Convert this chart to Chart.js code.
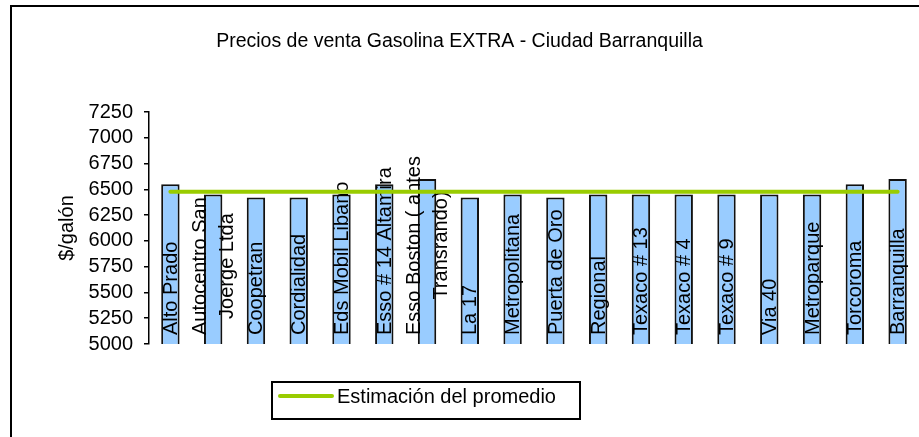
<!DOCTYPE html>
<html>
<head>
<meta charset="UTF-8">
<title>Precios de venta Gasolina EXTRA</title>
<script src="https://cdn.jsdelivr.net/npm/chart.js@4.4.1/dist/chart.umd.min.js"></script>
<style>
  html, body { margin: 0; padding: 0; background: #fff; }
  #wrap { width: 919px; height: 437px; position: relative; }
</style>
</head>
<body>
<div id="wrap"><canvas id="chart"></canvas></div>
<script>
// estaciones (etiquetas con salto de linea donde el original las parte)
var estaciones = [
  "Alto Prado", ["Autocentro San", "Joerge Ltda"], "Coopetran", "Cordialidad",
  "Eds Mobil Libano", "Esso # 14 Altamira", ["Esso Boston ( antes", "Transrando)"],
  "La 17", "Metropolitana", "Puerta de Oro", "Regional", "Texaco # 13",
  "Texaco # 4", "Texaco # 9", "Via 40", "Metroparque", "Torcoroma", "Barranquilla"
];
var precios = [6550, 6450, 6420, 6420, 6450, 6550, 6600, 6420, 6450, 6420,
               6450, 6450, 6450, 6450, 6450, 6450, 6550, 6600];
var promedio = [6477, 6477, 6477, 6477, 6477, 6477, 6477, 6477, 6477, 6477,
                6477, 6477, 6477, 6477, 6477, 6477, 6477, 6477];
var yMin = 5000, yMax = 7250, yPaso = 250;

var fuente = "'Liberation Sans', Arial, sans-serif";
Chart.defaults.font.family = fuente;
Chart.defaults.color = "#000";

// marco y fondo
var marco = {
  id: "marco",
  beforeDraw: function(chart) {
    var c = chart.ctx;
    c.save();
    c.fillStyle = "#fff";
    c.fillRect(0, 0, chart.width, chart.height);
    c.strokeStyle = "#000";
    c.lineWidth = 2;
    c.strokeRect(11, 6, chart.width + 10, chart.height + 10);
    c.restore();
  }
};

// etiquetas de categoria dentro de las barras, giradas
var etiquetas = {
  id: "etiquetas",
  afterDatasetDraw: function(chart, args) {
    if (args.index !== 0) return;
    var c = chart.ctx, x = chart.scales.x, abajo = chart.chartArea.bottom;
    c.save();
    c.font = "20px " + fuente;
    c.fillStyle = "#000";
    c.textAlign = "center";
    c.textBaseline = "middle";
    estaciones.forEach(function(et, i) {
      var lineas = Array.isArray(et) ? et : [et];
      var ancho = 0;
      lineas.forEach(function(l) { ancho = Math.max(ancho, c.measureText(l).width); });
      var cx = x.getPixelForValue(i);
      var cy = abajo - 9 - ancho / 2;
      lineas.forEach(function(l, k) {
        var dx = (k - (lineas.length - 1) / 2) * 27;
        c.save();
        c.translate(cx + dx, cy);
        c.rotate(-Math.PI / 2);
        c.fillText(l, 0, 1);
        c.restore();
      });
    });
    c.restore();
  }
};

// leyenda con recuadro
var leyenda = {
  id: "leyenda",
  afterDraw: function(chart) {
    var c = chart.ctx, ds = chart.data.datasets[1];
    c.save();
    c.strokeStyle = "#000";
    c.lineWidth = 2;
    c.strokeRect(272, 382, 308, 37);
    c.strokeStyle = ds.borderColor;
    c.lineWidth = 4;
    c.lineCap = "round";
    c.beginPath();
    c.moveTo(280, 396);
    c.lineTo(332, 396);
    c.stroke();
    c.font = "20px " + fuente;
    c.fillStyle = "#000";
    c.textBaseline = "middle";
    c.fillText(ds.label, 337, 397);
    c.restore();
  }
};

new Chart(document.getElementById("chart"), {
  type: "bar",
  data: {
    labels: estaciones,
    datasets: [
      {
        label: "Precio",
        data: precios,
        backgroundColor: "#99ccff",
        borderColor: "#111",
        borderWidth: 2,
        barPercentage: 0.43,
        categoryPercentage: 1,
        order: 2
      },
      {
        type: "line",
        label: "Estimación del promedio",
        data: promedio,
        borderColor: "#99cc00",
        borderWidth: 4,
        borderCapStyle: "round",
        pointRadius: 0,
        fill: false,
        order: 1
      }
    ]
  },
  options: {
    responsive: true,
    maintainAspectRatio: false,
    animation: false,
    layout: { padding: { left: 0, right: 0, top: 0, bottom: 0 } },
    plugins: {
      legend: { display: false },
      tooltip: { enabled: false },
      title: {
        display: true,
        text: "Precios de venta Gasolina EXTRA - Ciudad Barranquilla",
        color: "#000",
        font: { size: 19.5, weight: "normal" },
        padding: { top: 30, bottom: 58.6 }
      }
    },
    scales: {
      x: {
        grid: { display: false },
        border: { display: false },
        ticks: { display: false },
        afterFit: function(s) { s.height = 93; }
      },
      y: {
        min: yMin,
        max: yMax,
        ticks: {
          stepSize: yPaso,
          autoSkip: false,
          color: "#000",
          font: { size: 20 },
          padding: 11,
          callback: function(v) { return String(v); }
        },
        grid: { drawOnChartArea: false, drawTicks: true, tickLength: 5, color: "#000", lineWidth: 1.5 },
        border: { display: true, color: "#000", width: 1.5 },
        title: {
          display: true,
          text: "$/galón",
          color: "#000",
          font: { size: 20 },
          padding: { top: 55, bottom: 0 }
        },
        afterFit: function(s) { s.width = 149; }
      }
    }
  },
  plugins: [marco, etiquetas, leyenda]
});
</script>
</body>
</html>
